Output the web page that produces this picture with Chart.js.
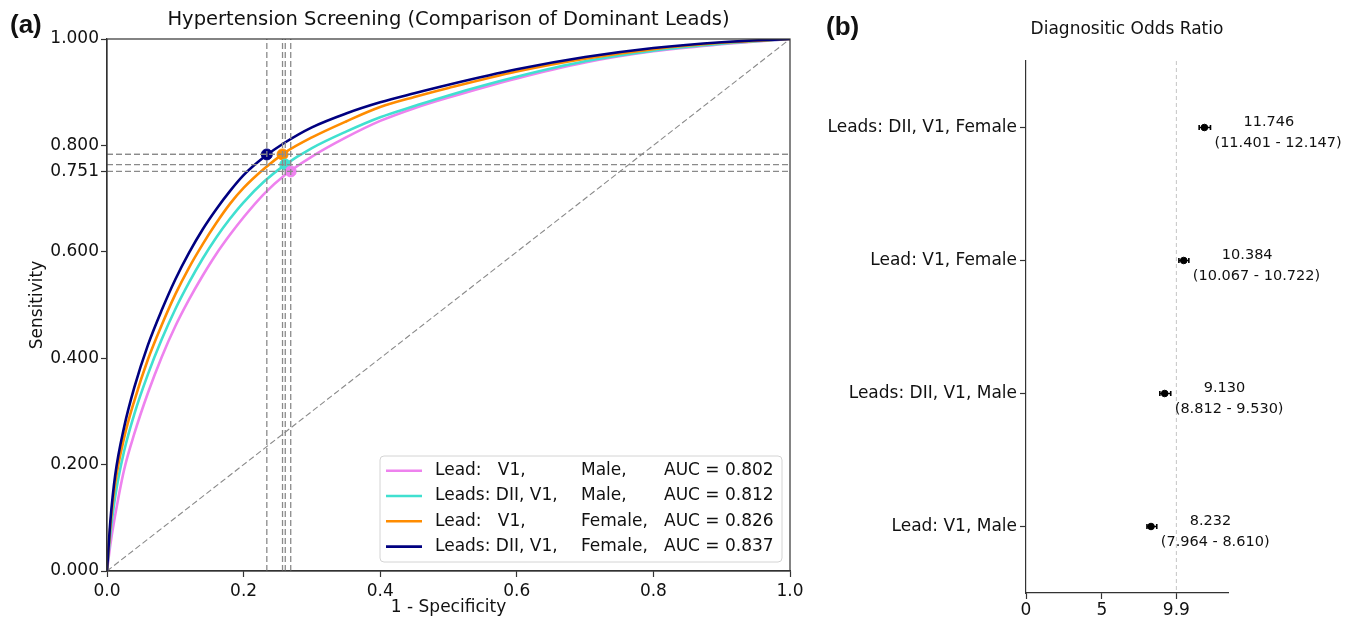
<!DOCTYPE html>
<html>
<head>
<meta charset="utf-8">
<script src="https://cdn.jsdelivr.net/npm/chart.js@4.4.1/dist/chart.umd.min.js"></script>
<style>
  body { margin: 0; background: #fff; width: 1349px; height: 621px; overflow: hidden; position: relative; }
  #rocBox { position: absolute; left: 0; top: 0; width: 820px; height: 621px; }
  #dorBox { position: absolute; left: 820px; top: 0; width: 529px; height: 621px; }
  .panel { position: absolute; font-family: "Liberation Sans", Arial, sans-serif; font-weight: bold; font-size: 26px; line-height: 1; color: #111; }
</style>
</head>
<body>
<div id="rocBox"><canvas id="roc" width="820" height="621"></canvas></div>
<div id="dorBox"><canvas id="dor" width="529" height="621"></canvas></div>
<div class="panel" style="left:10px;top:11px">(a)</div>
<div class="panel" style="left:826px;top:13px">(b)</div>
<script>
// ROC curves: shared false positive rate grid, one sensitivity array per model
var fpr = [0, 0.005, 0.012, 0.025, 0.04, 0.06, 0.08, 0.10, 0.12, 0.14, 0.16, 0.18, 0.20,
           0.23, 0.26, 0.30, 0.35, 0.40, 0.45, 0.50, 0.60, 0.70, 0.80, 0.90, 1.0];
var tprV1Male      = [0, 0.05, 0.105, 0.19, 0.258, 0.335, 0.402, 0.46, 0.51, 0.555, 0.596, 0.632, 0.665,
                      0.709, 0.744, 0.779, 0.815, 0.846, 0.87, 0.89, 0.926, 0.956, 0.977, 0.99, 1.0];
var tprDiiV1Male   = [0, 0.07, 0.14, 0.225, 0.295, 0.37, 0.435, 0.492, 0.542, 0.587, 0.627, 0.662, 0.693,
                      0.732, 0.763, 0.795, 0.826, 0.853, 0.874, 0.894, 0.929, 0.958, 0.978, 0.991, 1.0];
var tprV1Female    = [0, 0.085, 0.165, 0.25, 0.32, 0.398, 0.462, 0.52, 0.57, 0.614, 0.654, 0.69, 0.72,
                      0.756, 0.786, 0.815, 0.845, 0.872, 0.891, 0.908, 0.939, 0.963, 0.981, 0.993, 1.0];
var tprDiiV1Female = [0, 0.095, 0.18, 0.27, 0.345, 0.425, 0.49, 0.548, 0.598, 0.642, 0.68, 0.714, 0.744,
                      0.778, 0.805, 0.834, 0.86, 0.881, 0.898, 0.914, 0.943, 0.966, 0.983, 0.994, 1.0];

// chosen operating points (1 - specificity, sensitivity)
var opFpr = [0.269, 0.261, 0.257, 0.234];
var opTpr = [0.751, 0.764, 0.783, 0.783];

var legendLeads = ['Lead:   V1,', 'Leads: DII, V1,', 'Lead:   V1,', 'Leads: DII, V1,'];
var legendSex = ['Male,', 'Male,', 'Female,', 'Female,'];
var aucValues = [0.802, 0.812, 0.826, 0.837];
var rocColors = ['violet', 'turquoise', 'darkorange', 'navy'];

var sensTicks = [0, 0.2, 0.4, 0.6, 0.751, 0.8, 1.0];
var fprTicks = [0, 0.2, 0.4, 0.6, 0.8, 1.0];

// diagnostic odds ratio with 95% CI
var dorLabels = ['Leads: DII, V1, Female', 'Lead: V1, Female', 'Leads: DII, V1, Male', 'Lead: V1, Male'];
var dorValues = [11.746, 10.384, 9.130, 8.232];
var dorLow = [11.401, 10.067, 8.812, 7.964];
var dorHigh = [12.147, 10.722, 9.530, 8.610];
var dorTicks = [0, 5, 9.9];
var dorRef = 9.9;

Chart.defaults.font.family = '"DejaVu Sans", sans-serif';
Chart.defaults.font.size = 17;
Chart.defaults.color = '#111';

var axisColor = '#333';
var dashGray = { borderColor: '#8a8a8a', borderWidth: 1.3, borderDash: [6, 3], pointRadius: 0, showLine: true };

// ---------- (a) ROC ----------
var tprSets = [tprV1Male, tprDiiV1Male, tprV1Female, tprDiiV1Female];
var rocData = [];

rocData.push(Object.assign({ data: [{x: 0, y: 0}, {x: 1, y: 1}], order: 10 }, dashGray, { borderWidth: 1.1 }));

tprSets.forEach(function (tpr, i) {
  rocData.push({
    label: legendLeads[i] + ' ' + legendSex[i] + ' AUC = ' + aucValues[i].toFixed(3),
    data: fpr.map(function (f, j) { return {x: f, y: tpr[j]}; }),
    borderColor: rocColors[i],
    borderWidth: 2.6,
    pointRadius: 0,
    showLine: true,
    cubicInterpolationMode: 'monotone',
    order: 9 - i
  });
});

opFpr.forEach(function (f, i) {
  rocData.push({
    data: [{x: f, y: opTpr[i]}],
    pointRadius: 5.5,
    backgroundColor: rocColors[i],
    borderColor: rocColors[i],
    showLine: false,
    order: 2
  });
  rocData.push(Object.assign({ data: [{x: f, y: 0}, {x: f, y: 1}], order: 1 }, dashGray));
  rocData.push(Object.assign({ data: [{x: 0, y: opTpr[i]}, {x: 1, y: opTpr[i]}], order: 1 }, dashGray));
});

var rocFrame = {
  id: 'rocFrame',
  afterDatasetsDraw: function (chart) {
    var a = chart.chartArea, ctx = chart.ctx;
    ctx.save();
    ctx.strokeStyle = axisColor;
    ctx.lineWidth = 1.2;
    ctx.strokeRect(a.left, a.top, a.right - a.left, a.bottom - a.top);
    ctx.restore();
  }
};

var rocLegend = {
  id: 'rocLegend',
  afterDraw: function (chart) {
    var a = chart.chartArea, ctx = chart.ctx;
    var w = 402, h = 106;
    var x0 = a.right - 8 - w, y0 = a.bottom - 9 - h;
    ctx.save();
    ctx.beginPath();
    ctx.roundRect(x0, y0, w, h, 4);
    ctx.fillStyle = 'rgba(255,255,255,0.85)';
    ctx.fill();
    ctx.strokeStyle = '#d4d4d4';
    ctx.lineWidth = 1;
    ctx.stroke();
    ctx.font = '17px "DejaVu Sans"';
    ctx.textBaseline = 'middle';
    ctx.fillStyle = '#111';
    for (var i = 0; i < legendLeads.length; i++) {
      var yc = y0 + 14.7 + i * 25.3;
      ctx.strokeStyle = rocColors[i];
      ctx.lineWidth = 2.6;
      ctx.beginPath();
      ctx.moveTo(x0 + 6, yc);
      ctx.lineTo(x0 + 42, yc);
      ctx.stroke();
      ctx.fillText(legendLeads[i], x0 + 55, yc);
      ctx.fillText(legendSex[i], x0 + 201, yc);
      ctx.fillText('AUC = ' + aucValues[i].toFixed(3), x0 + 284, yc);
    }
    ctx.restore();
  }
};

new Chart(document.getElementById('roc'), {
  type: 'scatter',
  data: { datasets: rocData },
  plugins: [rocFrame, rocLegend],
  options: {
    responsive: false,
    animation: false,
    events: [],
    layout: { padding: { left: 0, right: 30, top: 0, bottom: 0 } },
    plugins: {
      legend: { display: false },
      tooltip: { enabled: false },
      title: {
        display: true,
        fullSize: false,
        text: 'Hypertension Screening (Comparison of Dominant Leads)',
        font: { size: 19.5, weight: 'normal' },
        color: '#111',
        padding: { top: 8, bottom: 7.6 }
      }
    },
    scales: {
      x: {
        type: 'linear', min: 0, max: 1,
        afterBuildTicks: function (s) { s.ticks = fprTicks.map(function (v) { return {value: v}; }); },
        afterFit: function (s) { s.height = 50; },
        ticks: { callback: function (v) { return v.toFixed(1); }, padding: 4, maxRotation: 0, autoSkip: false },
        grid: { drawOnChartArea: false, tickLength: 6, tickColor: axisColor, tickWidth: 1.2 },
        border: { color: axisColor, width: 1.2 },
        title: { display: true, text: '1 - Specificity', padding: { top: 0, bottom: 3 } }
      },
      y: {
        type: 'linear', min: 0, max: 1,
        afterBuildTicks: function (s) { s.ticks = sensTicks.map(function (v) { return {value: v}; }); },
        afterFit: function (s) { s.width = 107; },
        ticks: { callback: function (v) { return v.toFixed(3); }, padding: 2, autoSkip: false },
        grid: { drawOnChartArea: false, tickLength: 6, tickColor: axisColor, tickWidth: 1.2 },
        border: { color: axisColor, width: 1.2 },
        title: { display: true, text: 'Sensitivity', padding: { top: 27, bottom: 0 } }
      }
    }
  }
});

// ---------- (b) diagnostic odds ratio ----------
var dorData = dorLabels.map(function (lab, i) {
  return {
    data: [{x: dorLow[i], y: lab}, {x: dorHigh[i], y: lab}],
    showLine: true,
    borderColor: '#000',
    borderWidth: 1.6,
    pointStyle: 'line',
    rotation: 90,
    pointRadius: 2.5,
    pointBorderColor: '#000',
    pointBorderWidth: 1.6
  };
});
dorData.push({
  data: dorLabels.map(function (lab, i) { return {x: dorValues[i], y: lab}; }),
  pointRadius: 3.3,
  backgroundColor: '#000',
  borderColor: '#000',
  showLine: false
});

var dorRefLine = {
  id: 'dorRefLine',
  beforeDatasetsDraw: function (chart) {
    var a = chart.chartArea, ctx = chart.ctx;
    var px = chart.scales.x.getPixelForValue(dorRef);
    ctx.save();
    ctx.strokeStyle = '#c4c4c4';
    ctx.lineWidth = 1;
    ctx.setLineDash([4, 3]);
    ctx.beginPath();
    ctx.moveTo(px, a.top);
    ctx.lineTo(px, a.bottom);
    ctx.stroke();
    ctx.restore();
  }
};

var dorText = {
  id: 'dorText',
  afterDraw: function (chart) {
    var ctx = chart.ctx, xs = chart.scales.x, ys = chart.scales.y;
    ctx.save();
    ctx.font = '14.5px "DejaVu Sans"';
    ctx.fillStyle = '#111';
    ctx.textAlign = 'left';
    ctx.textBaseline = 'middle';
    for (var i = 0; i < dorLabels.length; i++) {
      var xh = xs.getPixelForValue(dorHigh[i]);
      var yc = ys.getPixelForValue(i);
      ctx.fillText(dorValues[i].toFixed(3), xh + 33, yc - 5);
      ctx.fillText('(' + dorLow[i].toFixed(3) + ' - ' + dorHigh[i].toFixed(3) + ')', xh + 4, yc + 16);
    }
    ctx.restore();
  }
};

new Chart(document.getElementById('dor'), {
  type: 'scatter',
  data: { datasets: dorData },
  plugins: [dorRefLine, dorText],
  options: {
    responsive: false,
    animation: false,
    events: [],
    layout: { padding: { left: 0, right: 121, top: 0, bottom: 0 } },
    plugins: {
      legend: { display: false },
      tooltip: { enabled: false },
      title: {
        display: true,
        fullSize: false,
        text: 'Diagnositic Odds Ratio',
        font: { size: 17, weight: 'normal' },
        color: '#111',
        padding: { top: 19, bottom: 21.6 }
      }
    },
    scales: {
      x: {
        type: 'linear', min: 0, max: 13.3,
        afterBuildTicks: function (s) { s.ticks = dorTicks.map(function (v) { return {value: v}; }); },
        afterFit: function (s) { s.height = 28; },
        ticks: { callback: function (v) { return String(v); }, padding: 1, maxRotation: 0, autoSkip: false },
        grid: { drawOnChartArea: false, tickLength: 6, tickColor: axisColor, tickWidth: 1.2 },
        border: { color: axisColor, width: 1.2 }
      },
      y: {
        type: 'category',
        labels: dorLabels,
        offset: true,
        afterFit: function (s) { s.width = 206; },
        ticks: { padding: 3, autoSkip: false },
        grid: { drawOnChartArea: false, offset: false, tickLength: 6, tickColor: axisColor, tickWidth: 1.2 },
        border: { color: axisColor, width: 1.2 }
      }
    }
  }
});
</script>
</body>
</html>
